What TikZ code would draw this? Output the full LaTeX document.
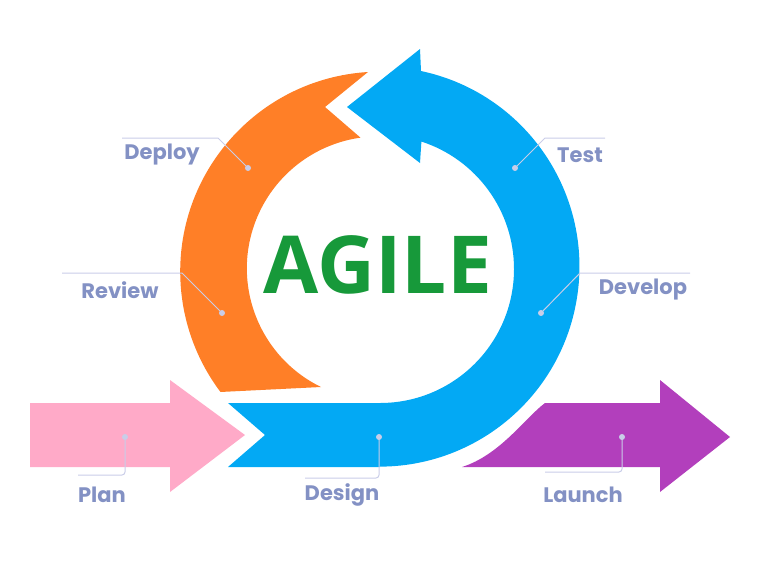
\documentclass[tikz,border=0pt]{standalone}
\usepackage{fontspec}
\setmainfont{Poppins}
\newfontfamily\agilefont{Open Sans}
\definecolor{orng}{HTML}{FF7F27}
\definecolor{blu}{HTML}{03A9F4}
\definecolor{pnk}{HTML}{FFAAC8}
\definecolor{purp}{HTML}{B23FBC}
\definecolor{lbl}{HTML}{8391C4}
\definecolor{ldr}{HTML}{C9CDE8}
\definecolor{agl}{HTML}{17993A}
\begin{document}
\begin{tikzpicture}[x=1pt,y=-1pt,
  lab/.style={text=lbl,font=\bfseries\fontsize{21}{24}\selectfont,inner sep=0pt},
  leader/.style={draw=ldr,line width=1pt},
  dot/.style={circle,fill=ldr,inner sep=0pt,minimum size=6pt}]
\useasboundingbox (0,0) rectangle (768,576);
% pink
\fill[pnk] (30,403) -- (170,403) -- (170,380) -- (245,435) -- (170,492) -- (170,467) -- (30,467) -- cycle;
% purple
\fill[purp] (545,403) -- (660,403) -- (660,380) -- (730,437) -- (660,492) -- (660,467) -- (462,467) .. controls (500,455) and (525,418) .. cycle;
% orange
\fill[orng] (368,72) arc[start angle=-93.5,end angle=-217,radius=200] -- (321,387) arc[start angle=-244,end angle=-98,radius=132] -- (325,107) -- cycle;
% blue
\fill[blu] (380,467) -- (228,467) -- (265,435) -- (228,403) -- (380,403)
  arc[start angle=90,end angle=-72,radius=134] -- (420,163) -- (347,107) -- (420,49) -- (421,71)
  arc[start angle=-78,end angle=90,radius=200] -- cycle;
\node[text=agl,font=\agilefont\bfseries\fontsize{80}{90}\selectfont,inner sep=0pt] (agile) at (378,265) {AGILE};
% labels
\node[lab] (deploy) at (162,155) {Deploy};
\node[lab] (review) at (120,290) {Review};
\node[lab] (test) at (580,155) {Test};
\node[lab] (develop) at (643,290) {Develop};
\node[lab] (plan) at (102,495) {Plan};
\node[lab] (design) at (342,495) {Design};
\node[lab] (launch) at (583,495) {Launch};
% dots
\node[dot] (d1) at (248,168) {};
\node[dot] (d2) at (222,313) {};
\node[dot] (d3) at (515,168) {};
\node[dot] (d4) at (541,313) {};
\node[dot] (d5) at (125,437) {};
\node[dot] (d6) at (379,437) {};
\node[dot] (d7) at (622,437) {};
\coordinate (c1) at (122,138); \coordinate (c1b) at (218,138);
\coordinate (c2) at (62,273); \coordinate (c2b) at (182,273);
\coordinate (c3) at (605,138); \coordinate (c3b) at (545,138);
\coordinate (c4) at (690,273); \coordinate (c4b) at (580,273);
\draw[leader] (c1) -- (c1b) -- (d1.center);
\draw[leader] (c2) -- (c2b) -- (d2.center);
\draw[leader] (c3) -- (c3b) -- (d3.center);
\draw[leader] (c4) -- (c4b) -- (d4.center);
\draw[leader,rounded corners=3pt] (d5.center) -- (125,475) -- (78,475);
\draw[leader,rounded corners=3pt] (d6.center) -- (379,478) -- (305,478);
\draw[leader,rounded corners=3pt] (d7.center) -- (622,472) -- (545,472);
\end{tikzpicture}
\end{document}
